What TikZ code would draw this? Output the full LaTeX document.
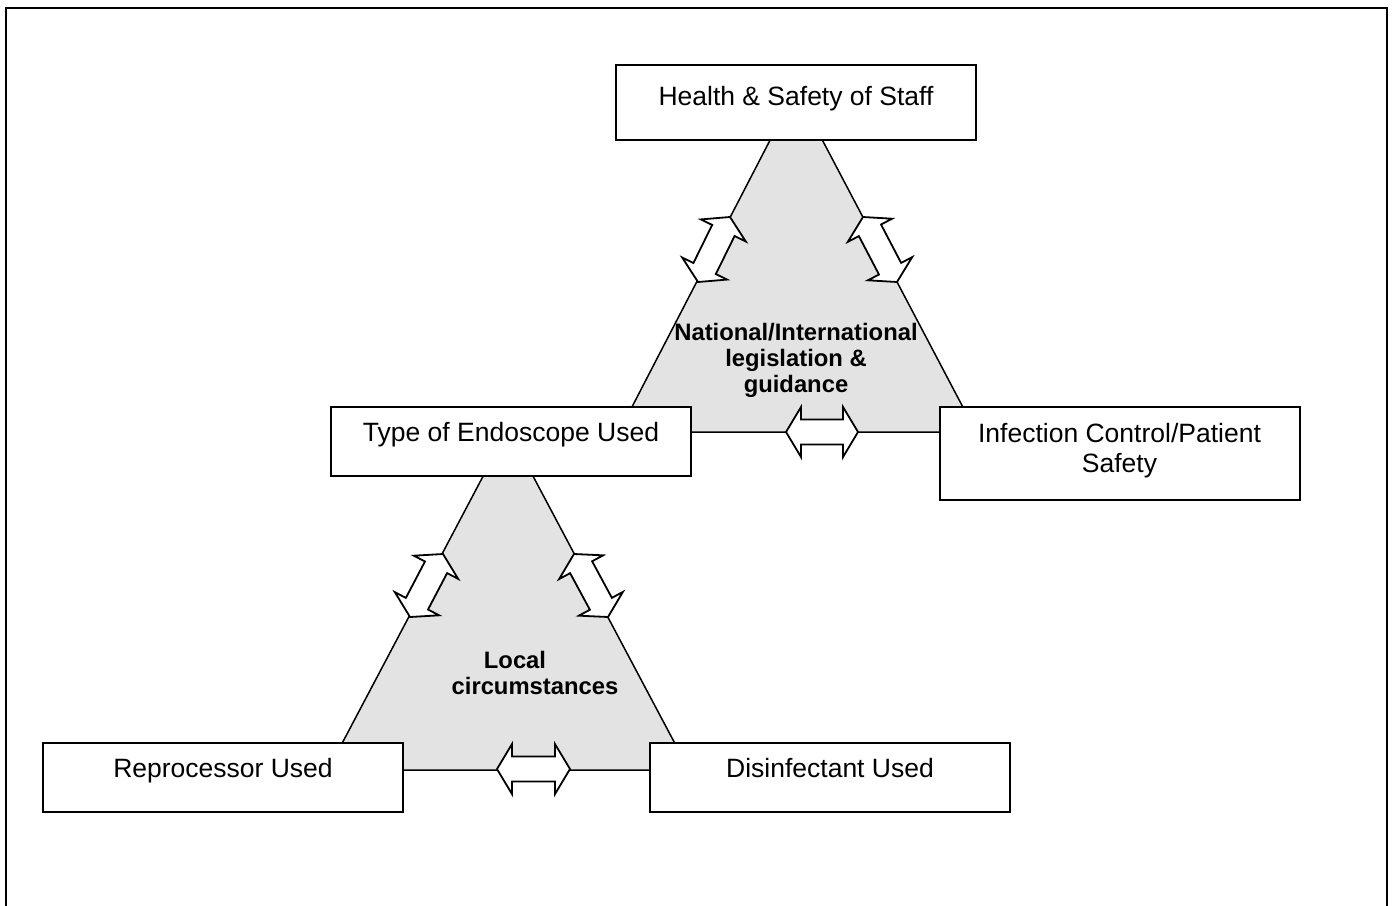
\documentclass[tikz,border=0pt]{standalone}
\usepackage{fontspec}
\setmainfont{Liberation Sans}
\usetikzlibrary{calc}
\definecolor{trigray}{RGB}{227,227,227}
\newcommand\dblarrow[2]{%
  \draw[dblarr] (#1)
    -- ($(#1)!7.5pt!(#2)!12.5pt!90:(#2)$)
    -- ($(#1)!7.5pt!(#2)!6.25pt!90:(#2)$)
    -- ($(#2)!7.5pt!(#1)!6.25pt!-90:(#1)$)
    -- ($(#2)!7.5pt!(#1)!12.5pt!-90:(#1)$)
    -- (#2)
    -- ($(#2)!7.5pt!(#1)!12.5pt!90:(#1)$)
    -- ($(#2)!7.5pt!(#1)!6.25pt!90:(#1)$)
    -- ($(#1)!7.5pt!(#2)!6.25pt!-90:(#2)$)
    -- ($(#1)!7.5pt!(#2)!12.5pt!-90:(#2)$)
    -- cycle;}
\begin{document}
\begin{tikzpicture}[x=0.5pt,y=-0.5pt,
  box/.style={draw, line width=1pt, fill=white, minimum width=180pt, minimum height=34.5pt, inner sep=0},
  tri/.style={draw, line width=0.75pt, fill=trigray, line join=miter},
  lbl/.style={font=\fontsize{13.25}{15}\selectfont, inner sep=0, anchor=base},
  mlbl/.style={font=\fontsize{13.25}{15}\selectfont, inner sep=0, anchor=north, align=center},
  blbl/.style={font=\fontsize{11.9}{13}\selectfont\bfseries, inner sep=0, anchor=north, align=center},
  dblarr/.style={draw, fill=white, line width=0.9pt, line join=miter}
]
\useasboundingbox (0,0) rectangle (1394,906);
\clip (0,0) rectangle (1394,906);
% outer frame
\draw[line width=1pt] (6,940) -- (6,8) -- (1387,8) -- (1387,940);
% triangles
\coordinate (uA) at (796,90);
\coordinate (uB) at (619,432);
\coordinate (uC) at (976,432);
\coordinate (lA) at (508,429);
\coordinate (lB) at (328,770);
\coordinate (lC) at (689,770);
\draw[tri] (uA) -- (uB) -- (uC) -- cycle;
\draw[tri] (lA) -- (lB) -- (lC) -- cycle;
% double arrows
\coordinate (ul1) at (698,282); \coordinate (ul2) at (730,217);
\coordinate (ur1) at (897,282); \coordinate (ur2) at (863,217);
\coordinate (ub1) at (786,432); \coordinate (ub2) at (858,432);
\coordinate (ll1) at (410,617); \coordinate (ll2) at (443,554);
\coordinate (lr1) at (608,617); \coordinate (lr2) at (574,554);
\coordinate (lb1) at (497,769); \coordinate (lb2) at (570,769);
\dblarrow{ul1}{ul2}
\dblarrow{ur1}{ur2}
\dblarrow{ub1}{ub2}
\dblarrow{ll1}{ll2}
\dblarrow{lr1}{lr2}
\dblarrow{lb1}{lb2}
% boxes
\node[box, minimum height=37.5pt] (health) at (796,102.5) {};
\node[box] (type) at (511,441.5) {};
\node[box, minimum height=46.5pt] (infection) at (1119.5,453.5) {};
\node[box] (reproc) at (223,777.5) {};
\node[box] (disinf) at (830,777.5) {};
% labels
\node[lbl] (healtht) at (796,105) {Health \& Safety of Staff};
\node[lbl] (typet) at (511,441) {Type of Endoscope Used};
\node[mlbl] (infectiont) at (1119.5,423) {Infection Control/Patient\\Safety};
\node[lbl] (reproct) at (223,777) {Reprocessor Used};
\node[lbl] (disinft) at (830,777) {Disinfectant Used};
\node[blbl] (national) at (796,323) {National/International\\legislation \&\\guidance};
\node[blbl] (local) at (535,651) {Local\hspace*{20pt}\\circumstances};
\end{tikzpicture}
\end{document}
